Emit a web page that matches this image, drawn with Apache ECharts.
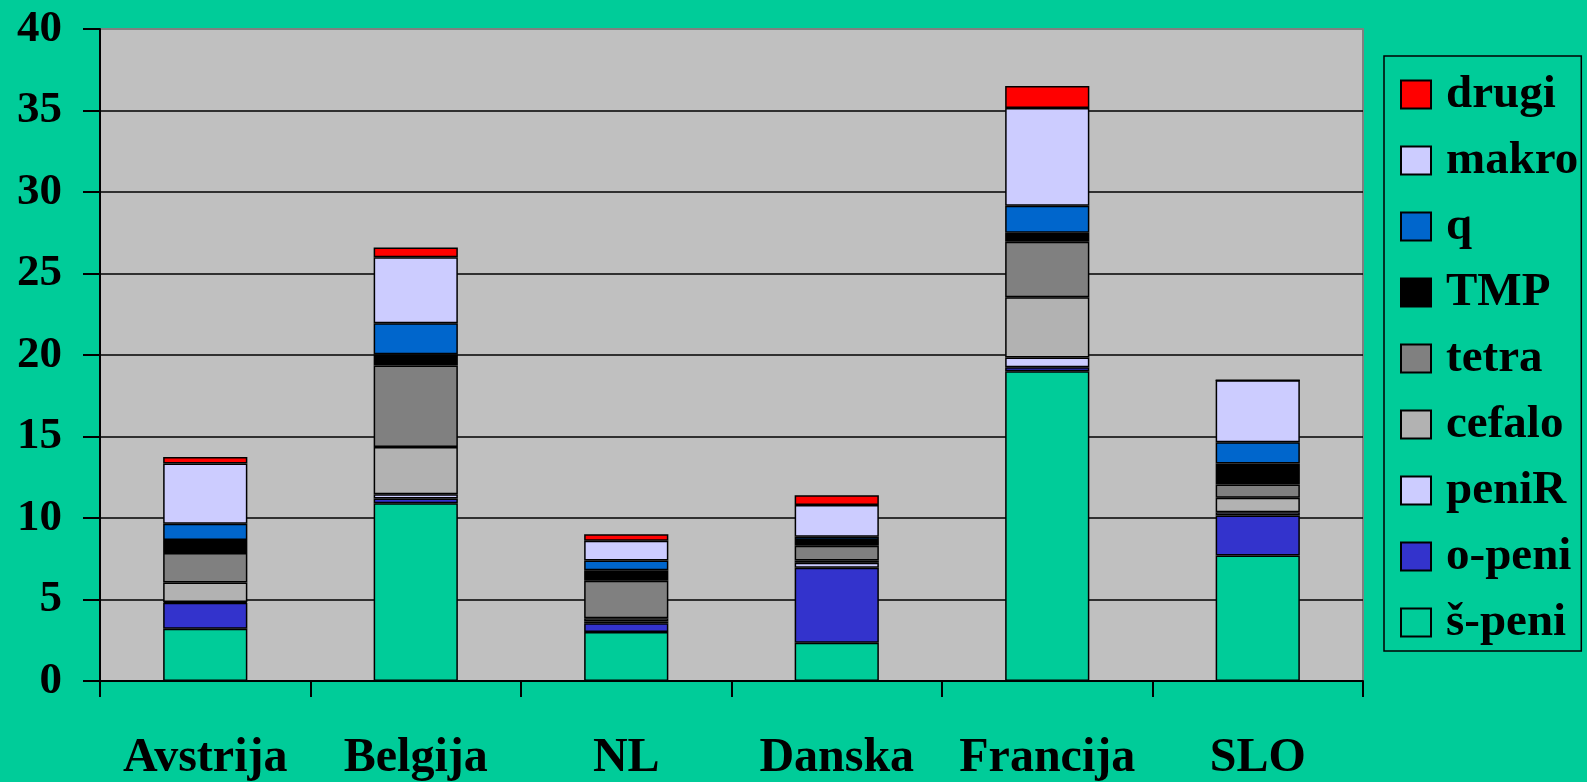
<!DOCTYPE html>
<html>
<head>
<meta charset="utf-8">
<script src="https://cdn.jsdelivr.net/npm/echarts@6/dist/echarts.min.js"></script>
<style>
    html, body { margin: 0; padding: 0; background: #00CC99; }
    #chart { width: 1587px; height: 782px; }
</style>
</head>
<body>
<div id="chart"></div>
<script>
    var countries = ['Avstrija', 'Belgija', 'NL', 'Danska', 'Francija', 'SLO'];
    var yTicks = [0, 40, 5];   // min, max, interval

    // od spodaj navzgor
    var sPeni  = [3.2, 10.9, 3.0, 2.35, 19.0, 7.7];
    var oPeni  = [1.6, 0.3, 0.55, 4.6, 0.25, 2.45];
    var peniR  = [0.05, 0.25, 0.1, 0.3, 0.6, 0.2];
    var cefalo = [1.2, 2.9, 0.2, 0.15, 3.7, 0.9];
    var tetra  = [1.8, 5.0, 2.3, 0.9, 3.4, 0.8];
    var tmp    = [0.8, 0.7, 0.65, 0.35, 0.55, 1.3];
    var q      = [1.0, 1.9, 0.6, 0.2, 1.65, 1.3];
    var makro  = [3.7, 4.05, 1.2, 1.95, 6.0, 3.8];
    var drugi  = [0.4, 0.6, 0.4, 0.6, 1.35, 0];

    var names  = ['š-peni', 'o-peni', 'peniR', 'cefalo', 'tetra', 'TMP', 'q', 'makro', 'drugi'];
    var colors = ['#00CC99', '#3333CC', '#CCCCFF', '#B2B2B2', '#808080', '#000000', '#0066CC', '#CCCCFF', '#FF0000'];
    var values = [sPeni, oPeni, peniR, cefalo, tetra, tmp, q, makro, drugi];

    var font = 'Liberation Serif';

    var series = [];
    for (var i = 0; i < names.length; i++) {
        series.push({
            name: names[i],
            type: 'bar',
            stack: 'all',
            barWidth: '40%',
            data: values[i],
            itemStyle: {
                color: colors[i],
                borderColor: '#000',
                borderWidth: 1.5
            }
        });
    }

    // zgornja mrezna crta je siva kot rob risalne povrsine
    var gridColors = ['#000', '#000', '#000', '#000', '#000', '#000', '#000', '#000', '#808080'];

    var chart = echarts.init(document.getElementById('chart'));
    var option = {
        backgroundColor: '#00CC99',
        animation: false,
        grid: {
            left: 100,
            right: 224,
            top: 29,
            bottom: 101,
            outerBoundsMode: 'none',
            show: true,
            backgroundColor: '#C0C0C0',
            borderColor: '#808080',
            borderWidth: 2
        },
        legend: {
            orient: 'vertical',
            left: 1384,
            top: 56,
            data: names.slice().reverse(),
            backgroundColor: '#00CC99',
            borderColor: '#000',
            borderWidth: 1.5,
            padding: [15, 3, 5, 16],
            itemWidth: 30,
            itemHeight: 28,
            itemGap: 19,
            icon: 'rect',
            textStyle: {
                fontFamily: font,
                fontWeight: 'bold',
                fontSize: 47,
                lineHeight: 44,
                color: '#000',
                padding: [0, 0, 0, 10]
            }
        },
        xAxis: {
            type: 'category',
            data: countries,
            axisLine: { lineStyle: { color: '#000', width: 2 } },
            axisTick: { show: true, interval: 0, length: 16, lineStyle: { color: '#000', width: 2 } },
            axisLabel: {
                interval: 0,
                fontFamily: font,
                fontWeight: 'bold',
                fontSize: 48,
                color: '#000',
                margin: 54
            }
        },
        yAxis: {
            type: 'value',
            min: yTicks[0],
            max: yTicks[1],
            interval: yTicks[2],
            axisLine: { show: true, lineStyle: { color: '#000', width: 2 } },
            axisTick: { show: true, length: 17, lineStyle: { color: '#000', width: 2 } },
            splitLine: { lineStyle: { color: gridColors, width: 1.5 } },
            axisLabel: {
                fontFamily: font,
                fontWeight: 'bold',
                fontSize: 45,
                color: '#000',
                margin: 38
            }
        },
        series: series
    };
    chart.setOption(option);
</script>
</body>
</html>
